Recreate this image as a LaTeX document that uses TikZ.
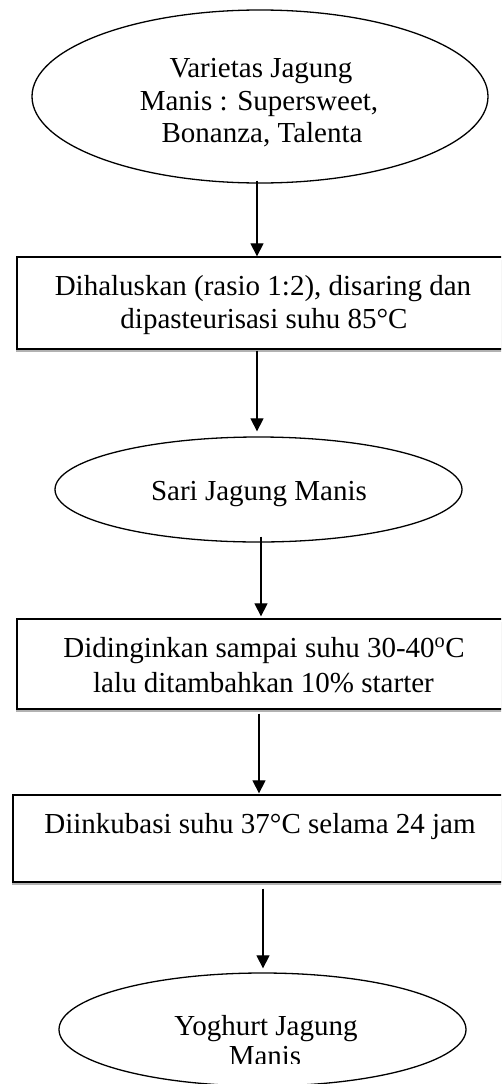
\documentclass[tikz,border=0pt]{standalone}
\usepackage{fontspec}
\setmainfont{Liberation Serif}
\usetikzlibrary{shapes.geometric,arrows.meta,shadows}
\begin{document}
\begin{tikzpicture}[x=1pt,y=-1pt,
  oval/.style={draw=black,line width=1.3pt,ellipse,inner sep=0pt,fill=white},
  stepbox/.style={draw=black,line width=1.3pt,rectangle,inner sep=0pt,fill=white,
    drop shadow={shadow xshift=-1.5pt,shadow yshift=-2.5pt,fill=black,opacity=0.3}},
  txt/.style={font=\fontsize{29}{33}\selectfont,inner sep=0pt,anchor=base},
  arr/.style={-{Triangle[width=13pt,length=13pt]},line width=1.2pt}]
\useasboundingbox (0,0) rectangle (501,1084);
\begin{scope}
\clip (0,0) rectangle (501,1084);
% shapes
\node[oval,minimum width=456pt,minimum height=173pt] (e1) at (260,96.5) {};
\node[stepbox,minimum width=493pt,minimum height=92pt] (b1) at (263.5,303) {};
\node[oval,minimum width=407pt,minimum height=105pt] (e2) at (258.5,489.5) {};
\node[stepbox,minimum width=493pt,minimum height=90pt] (b2) at (263.5,664) {};
\node[stepbox,minimum width=497pt,minimum height=87pt] (b3) at (261.5,838.5) {};
\node[oval,minimum width=407pt,minimum height=113pt] (e3) at (262.5,1029.5) {};
% texts
\node[txt] (t1a) at (261,77) {Varietas Jagung};
\node[txt] (t1b) at (259,110) {Manis : Supersweet,};
\node[txt] (t1c) at (262,142) {Bonanza, Talenta};
\node[txt] (t2a) at (263,295) {Dihaluskan (rasio 1:2), disaring dan};
\node[txt] (t2b) at (264,328) {dipasteurisasi suhu 85°C};
\node[txt] (t3) at (259,500) {Sari Jagung Manis};
\node[txt] (t4a) at (264,657) {Didinginkan sampai suhu 30-40\textsuperscript{o}C};
\node[txt] (t4b) at (263.5,692) {lalu ditambahkan 10\% starter};
\node[txt] (t5) at (260,833) {Diinkubasi suhu 37°C selama 24 jam};
\node[txt] (t6a) at (266,1035) {Yoghurt Jagung};
\begin{scope}
\clip (0,0) rectangle (501,1063);
\node[txt] (t6b) at (265,1065) {Manis};
\end{scope}
% arrows
\draw[arr,shorten <=-3pt] ([xshift=-3pt]e1.south) -- ([xshift=-6.5pt]b1.north);
\draw[arr,shorten <=1pt,shorten >=5pt] ([xshift=-6.5pt]b1.south) -- ([xshift=-1.5pt]e2.north);
\draw[arr,shorten <=-6pt,shorten >=2pt] ([xshift=2.5pt]e2.south) -- ([xshift=-2.5pt]b2.north);
\draw[arr,shorten <=4pt,shorten >=1pt] ([xshift=-4.5pt]b2.south) -- ([xshift=-2.5pt]b3.north);
\draw[arr,shorten <=6pt,shorten >=4pt] ([xshift=1.5pt]b3.south) -- ([xshift=0.5pt]e3.north);
\end{scope}
\end{tikzpicture}
\end{document}
